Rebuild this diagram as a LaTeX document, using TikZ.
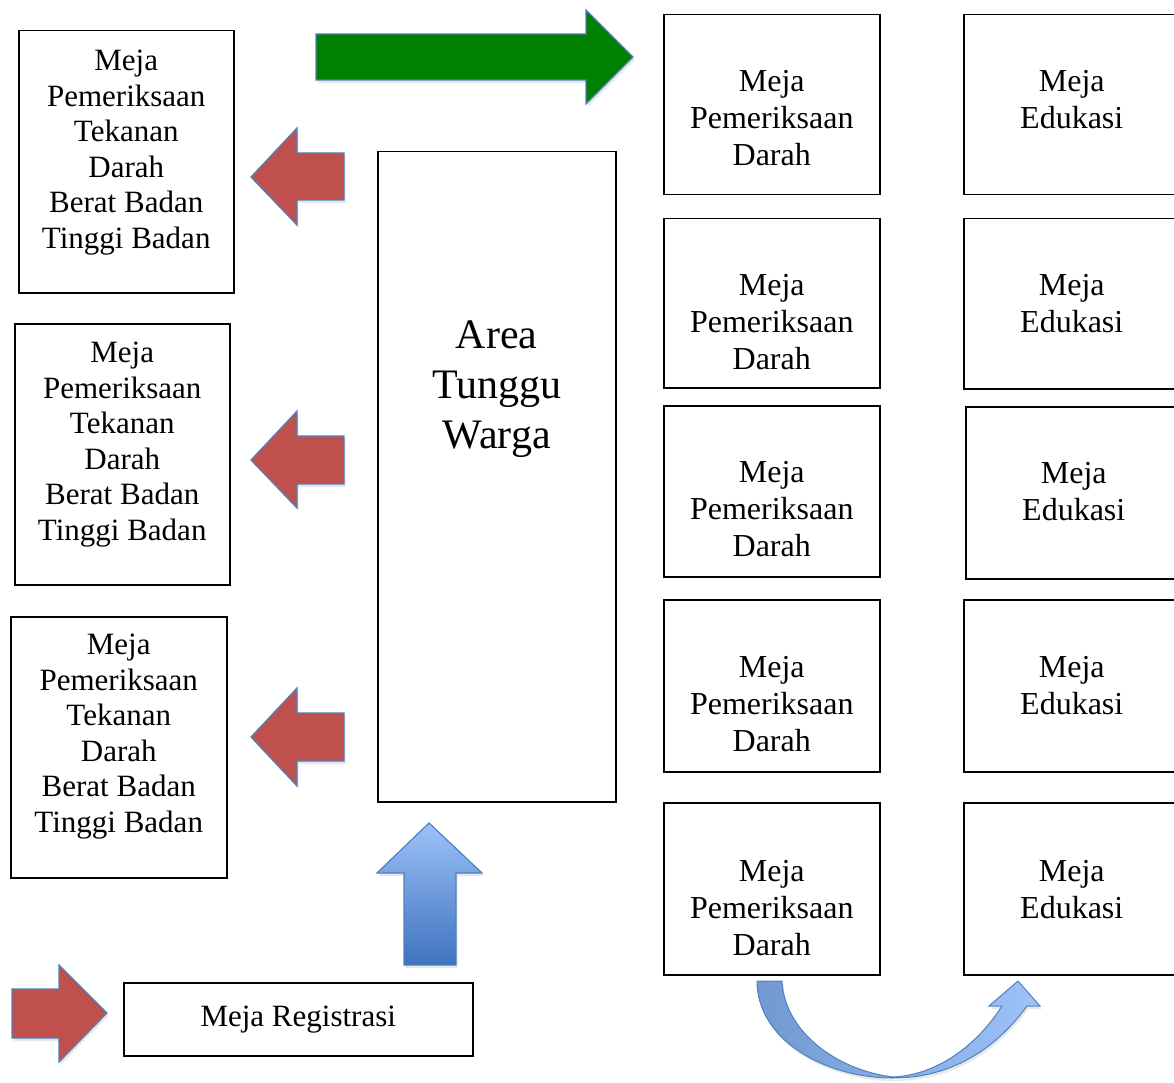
\documentclass[tikz,border=0pt]{standalone}
\usepackage{fontspec}
\setmainfont{Liberation Serif}
\usetikzlibrary{shadows}
\definecolor{panahmerah}{HTML}{C0504D}
\definecolor{panahhijau}{HTML}{008000}
\definecolor{garispanah}{HTML}{4F81BD}
\definecolor{birumuda}{HTML}{9CC2F8}
\definecolor{birusedang}{HTML}{7399D2}
\definecolor{birutua}{HTML}{3F72BE}
\definecolor{birugelap}{HTML}{3A66AC}

% isi meja: lebar, tinggi, jarak baris pertama dari atas, teks
\newcommand{\isimeja}[4]{\parbox[t][#2pt][t]{#1pt}{\centering\rule{0pt}{#3pt}#4}}

\begin{document}
\begin{tikzpicture}[x=1pt, y=-1pt,
  meja/.style={draw, line width=1.5pt, inner sep=0pt, anchor=north west, font=\fontsize{32}{37}\selectfont},
  mejakiri/.style={meja, font=\fontsize{31}{35.5}\selectfont},
  panah/.style={draw=garispanah, line width=1.2pt, line join=miter, drop shadow={shadow xshift=1.5pt, shadow yshift=-3pt, opacity=0.18}}
]
  \clip (0,0) rectangle (1174,1083);

  % meja kiri
  \node[mejakiri] (kiri1) at (18,30) {\isimeja{215}{262}{40}{Meja\\Pemeriksaan\\Tekanan\\Darah\\Berat Badan\\Tinggi Badan}};
  \node[mejakiri] (kiri2) at (14,323) {\isimeja{215}{261}{39}{Meja\\Pemeriksaan\\Tekanan\\Darah\\Berat Badan\\Tinggi Badan}};
  \node[mejakiri] (kiri3) at (10,616) {\isimeja{216}{261}{38}{Meja\\Pemeriksaan\\Tekanan\\Darah\\Berat Badan\\Tinggi Badan}};

  \node[meja, font=\fontsize{42}{50}\selectfont] (tunggu) at (377,151) {\isimeja{238}{650}{197}{Area\\Tunggu\\Warga}};
  \node[draw, line width=1.5pt, minimum width=349pt, minimum height=73pt, anchor=north west, font=\fontsize{31}{36}\selectfont] (registrasi) at (123,982) {Meja Registrasi};

  % meja pemeriksaan darah
  \node[meja] (darah1) at (663,14) {\isimeja{216}{180}{77}{Meja\\Pemeriksaan\\Darah}};
  \node[meja] (darah2) at (663,218) {\isimeja{216}{169}{77}{Meja\\Pemeriksaan\\Darah}};
  \node[meja] (darah3) at (663,405) {\isimeja{216}{171}{77}{Meja\\Pemeriksaan\\Darah}};
  \node[meja] (darah4) at (663,599) {\isimeja{216}{172}{78}{Meja\\Pemeriksaan\\Darah}};
  \node[meja] (darah5) at (663,802) {\isimeja{216}{172}{79}{Meja\\Pemeriksaan\\Darah}};

  % meja edukasi
  \node[meja] (edukasi1) at (963,14) {\isimeja{216}{180}{77}{Meja\\Edukasi}};
  \node[meja] (edukasi2) at (963,218) {\isimeja{216}{170}{77}{Meja\\Edukasi}};
  \node[meja] (edukasi3) at (965,406) {\isimeja{216}{172}{77}{Meja\\Edukasi}};
  \node[meja] (edukasi4) at (963,599) {\isimeja{216}{172}{78}{Meja\\Edukasi}};
  \node[meja] (edukasi5) at (963,802) {\isimeja{216}{172}{79}{Meja\\Edukasi}};

  % panah
  \draw[panah, fill=panahhijau] (316,34) -- (586,34) -- (586,10) -- (633,57) -- (586,104) -- (586,80) -- (316,80) -- cycle;
  \draw[panah, fill=panahmerah] (344,153) -- (297,153) -- (297,128) -- (251,177) -- (297,225) -- (297,200) -- (344,200) -- cycle;
  \draw[panah, fill=panahmerah] (344,436) -- (297,436) -- (297,411) -- (251,460) -- (297,508) -- (297,484) -- (344,484) -- cycle;
  \draw[panah, fill=panahmerah] (344,713) -- (297,713) -- (297,688) -- (251,737) -- (297,786) -- (297,761) -- (344,761) -- cycle;
  \draw[panah, fill=panahmerah] (12,989) -- (59,989) -- (59,965) -- (107,1013) -- (59,1062) -- (59,1038) -- (12,1038) -- cycle;
  \draw[panah, top color=birumuda, bottom color=birutua] (404,965) -- (404,873) -- (377,873) -- (429,823) -- (482,873) -- (456,873) -- (456,965) -- cycle;
  \draw[panah, line width=1pt, left color=birusedang, middle color=birugelap, right color=birumuda]
    (757,981) .. controls (757,1040) and (825,1078) .. (893,1078)
    .. controls (950,1078) and (995,1050) .. (1027,1006)
    -- (1040,1006) -- (1018,981) -- (989,1006) -- (1002,1006)
    .. controls (975,1048) and (935,1075) .. (893,1077)
    .. controls (835,1070) and (784,1030) .. (782,981) -- cycle;
\end{tikzpicture}
\end{document}
